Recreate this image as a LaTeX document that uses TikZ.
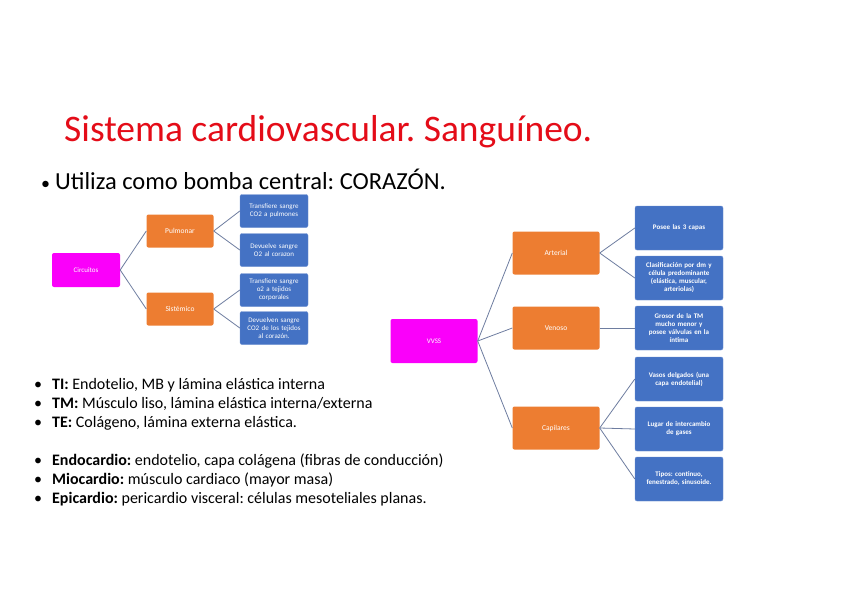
\documentclass[tikz,border=0pt]{standalone}
\usepackage{fontspec}
\setmainfont{Carlito}
\frenchspacing
\definecolor{rojoTitulo}{RGB}{228,12,24}
\definecolor{magentaRaiz}{RGB}{250,0,250}
\definecolor{naranjaRama}{RGB}{237,125,49}
\definecolor{azulHoja}{RGB}{68,114,196}
\definecolor{bordeHoja}{RGB}{110,145,210}
\definecolor{grisEnlace}{RGB}{110,125,160}

\begin{document}
\begin{tikzpicture}[x=1pt,y=-1pt,
  raiz/.style={rectangle,rounded corners=2pt,fill=magentaRaiz,text=white,
    font=\fontsize{7}{8}\selectfont,inner sep=2pt},
  rama/.style={rectangle,rounded corners=2pt,fill=naranjaRama,text=white,
    font=\fontsize{7.5}{8.5}\selectfont,inner sep=2pt},
  hoja/.style={rectangle,rounded corners=2pt,fill=azulHoja,draw=bordeHoja,
    line width=0.4pt,text=white,align=center,
    font=\fontsize{7}{8}\selectfont,inner sep=2pt},
  enlace/.style={draw=grisEnlace,line width=0.8pt},
  viñeta/.style={anchor=base west,inner sep=0pt,font=\fontsize{16}{18}\selectfont}]
  \useasboundingbox[fill=white] (0,0) rectangle (848,599);

  % titulo
  \node[anchor=base west,inner sep=0pt,text=rojoTitulo,font=\fontsize{37.5}{40}\selectfont]
    (titulo) at (64,142) {Sistema cardiovascular. Sanguíneo.};
  \node[anchor=base west,inner sep=0pt,font=\fontsize{24.5}{26}\selectfont]
    (subtitulo) at (41,189) {{\fontsize{18}{20}\selectfont\textbullet}\hspace{5pt}Utiliza como bomba central: CORAZÓN.};

  % circuitos
  \node[raiz,minimum width=68,minimum height=34] (circuitos) at (86,270) {Circuitos};
  \node[rama,minimum width=67,minimum height=33] (pulmonar) at (180,231) {Pulmonar};
  \node[rama,minimum width=67,minimum height=33] (sistemico) at (180,309) {Sistémico};
  \node[hoja,text width=64,minimum height=33] (transCO) at (274,211) {Transfiere sangre\\CO2 a pulmones};
  \node[hoja,text width=64,minimum height=33] (devuelveO) at (274,250) {Devuelve sangre\\O2 al corazon};
  \node[hoja,text width=64,minimum height=33] (transO) at (274,290) {Transfiere sangre\\o2 a tejidos\\corporales};
  \node[hoja,text width=64,minimum height=33] (devuelveCO) at (274,328) {Devuelven sangre\\CO2 de los tejidos\\al corazón.};

  \draw[enlace] (circuitos.east) -- (pulmonar.west);
  \draw[enlace] (circuitos.east) -- (sistemico.west);
  \draw[enlace] (pulmonar.east) -- (transCO.west);
  \draw[enlace] (pulmonar.east) -- (devuelveO.west);
  \draw[enlace] (sistemico.east) -- (transO.west);
  \draw[enlace] (sistemico.east) -- (devuelveCO.west);

  % vasos sanguineos
  \node[raiz,minimum width=87,minimum height=44] (vvss) at (434,341) {VVSS};
  \node[rama,minimum width=87,minimum height=43] (arterial) at (556,253) {Arterial};
  \node[rama,minimum width=87,minimum height=43] (venoso) at (556,328) {Venoso};
  \node[rama,minimum width=87,minimum height=43] (capilares) at (556,428) {Capilares};
  \node[hoja,text width=84,minimum height=44] (capas) at (679,228) {\bfseries Posee las 3 capas};
  \node[hoja,text width=84,minimum height=44] (clasif) at (679,278) {\bfseries Clasificación por dm y\\célula predominante\\(elástica, muscular,\\arteriolas)};
  \node[hoja,text width=84,minimum height=44] (grosor) at (679,328) {\bfseries Grosor de la TM\\mucho menor y\\posee válvulas en la\\íntima};
  \node[hoja,text width=84,minimum height=44] (delgados) at (679,379) {\bfseries Vasos delgados (una\\capa endotelial)};
  \node[hoja,text width=84,minimum height=44] (intercambio) at (679,429) {\bfseries Lugar de intercambio\\de gases};
  \node[hoja,text width=84,minimum height=44] (tipos) at (679,479) {\bfseries Tipos: continuo,\\fenestrado, sinusoide.};

  \draw[enlace] (vvss.east) -- (arterial.west);
  \draw[enlace] (vvss.east) -- (venoso.west);
  \draw[enlace] (vvss.east) -- (capilares.west);
  \draw[enlace] (arterial.east) -- (capas.west);
  \draw[enlace] (arterial.east) -- (clasif.west);
  \draw[enlace] (venoso.east) -- (grosor.west);
  \draw[enlace] (capilares.east) -- (delgados.west);
  \draw[enlace] (capilares.east) -- (intercambio.west);
  \draw[enlace] (capilares.east) -- (tipos.west);

  % capas
  \node[viñeta] (ti) at (34,389) {\textbullet\hspace{10pt}\textbf{TI:} Endotelio, MB y lámina elástica interna};
  \node[viñeta] (tm) at (34,408) {\textbullet\hspace{10pt}\textbf{TM:} Músculo liso, lámina elástica interna/externa};
  \node[viñeta] (te) at (34,427) {\textbullet\hspace{10pt}\textbf{TE:} Colágeno, lámina externa elástica.};
  \node[viñeta] (endo) at (34,465) {\textbullet\hspace{10pt}\textbf{Endocardio:} endotelio, capa colágena (fibras de conducción)};
  \node[viñeta] (mio) at (34,484) {\textbullet\hspace{10pt}\textbf{Miocardio:} músculo cardiaco (mayor masa)};
  \node[viñeta] (epi) at (34,503) {\textbullet\hspace{10pt}\textbf{Epicardio:} pericardio visceral: células mesoteliales planas.};
\end{tikzpicture}
\end{document}
